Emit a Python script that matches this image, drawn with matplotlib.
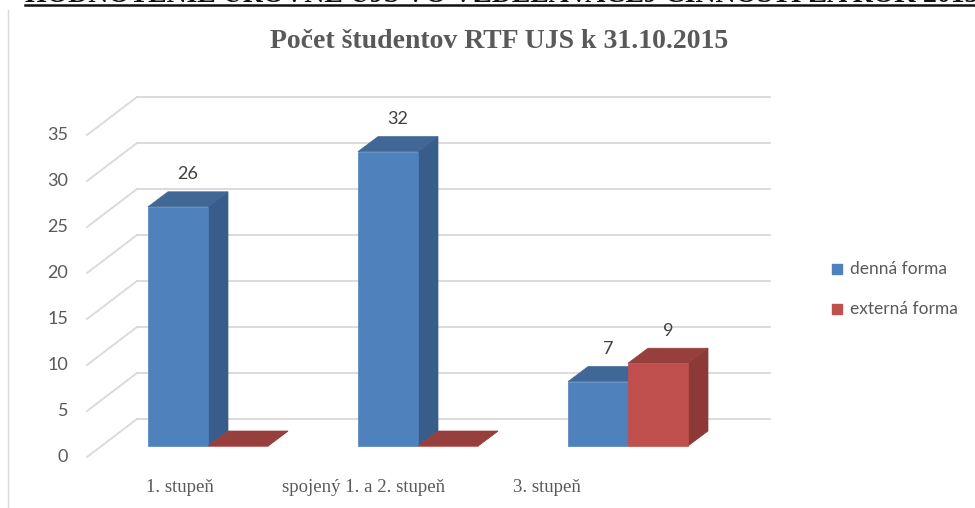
import matplotlib
matplotlib.use('Agg')
import matplotlib.pyplot as plt
from matplotlib.patches import Polygon
import numpy as np

# data
categories = ['1. stupeň', 'spojený 1. a 2. stupeň', '3. stupeň']
series_names = ['denná forma', 'externá forma']
denna = [26, 32, 7]
externa = [0, 0, 9]
yticks = [0, 5, 10, 15, 20, 25, 30, 35]

title = 'Počet študentov RTF UJS k 31.10.2015'
header = 'HODNOTENIE ÚROVNE UJS VO VZDELÁVACEJ ČINNOSTI ZA ROK 2015'

# colours: front, side, top
blue = ('#4f81bd', '#385d8a', '#416796')
red = ('#c0504d', '#8b3a38', '#973f3d')

W, H = 975, 508
fig = plt.figure(figsize=(W / 100, H / 100), dpi=100)
ax = fig.add_axes([0, 0, 1, 1])
ax.axis('off')

# x: category units (210 px each), y: value units (9.2 px each)
px_x, px_y = 210.0, 9.2
x0_px, y0_px = 208.0, 446.0
ax.set_xlim(-x0_px / px_x, (W - x0_px) / px_x)
ax.set_ylim((y0_px - H) / px_y, y0_px / px_y)

bw = 60 / px_x                       # bar width
bdx, bdy = 20 / px_x, 15 / px_y      # bar depth
wdx, wdy = 36 / px_x, 27 / px_y      # back wall offset from bar front
fdx, fdy = -14 / px_x, -11 / px_y    # floor front edge offset

# gridlines (back wall + left diagonal)
x_back_l, x_back_r = -71 / px_x, 562 / px_x
for t in yticks:
    ax.plot([x_back_l, x_back_r], [t + wdy, t + wdy], color='#d9d9d9', lw=1.3, zorder=1)
    ax.plot([x_back_l + fdx - wdx, x_back_l], [t + fdy, t + wdy], color='#d9d9d9', lw=1.3, zorder=1)
    ax.text(x_back_l + fdx - wdx - 0.09, t + fdy, str(t), ha='right', va='center',
            fontsize=13, color='#595959', family='Lato')


def bar3d(x, v, cols):
    front = [(x, 0), (x + bw, 0), (x + bw, v), (x, v)]
    side = [(x + bw, 0), (x + bw + bdx, bdy), (x + bw + bdx, v + bdy), (x + bw, v)]
    top = [(x, v), (x + bw, v), (x + bw + bdx, v + bdy), (x + bdx, v + bdy)]
    for poly, c in ((side, cols[1]), (top, cols[2]), (front, cols[0])):
        ax.add_patch(Polygon(poly, closed=True, facecolor=c, edgecolor=c, lw=0.5, zorder=3))


idx = np.arange(len(categories))
for i in idx:
    bar3d(i - bw, denna[i], blue)
    bar3d(i, externa[i], red)

# value labels
for i in idx:
    for x, v in ((i - bw, denna[i]), (i, externa[i])):
        if v > 0:
            ax.text(x + bw / 2 + bdx / 2, v + bdy / 2 + 2.7, str(v), ha='center', va='center',
                    fontsize=13, color='#404040', family='Lato')

# category labels (perspective shrink toward front)
for i, c in enumerate(categories):
    ax.text(i * 0.874 - 0.133, (y0_px - 487) / px_y, c, ha='center', va='center',
            fontsize=13.5, color='#595959', family='Liberation Serif')

# legend
for k, (name, col) in enumerate(zip(series_names, (blue[0], red[0]))):
    ly = (y0_px - (269 + 40 * k)) / px_y
    ax.scatter([(833 + 4 - x0_px) / px_x], [ly], marker='s', s=45, color=col, zorder=4)
    ax.text((850 - x0_px) / px_x, ly, name, ha='left', va='center',
            fontsize=12.5, color='#595959', family='Lato')

# title and page header (header is cut by the top edge, as in the source page)
fig.text(499 / W, 1 - 41 / H, title, ha='center', va='center', fontsize=20,
         fontweight='bold', color='#595959', family='Liberation Serif')
fig.text(25 / W, 1 - 2 / H, header, ha='left', va='baseline', fontsize=20,
         fontweight='bold', color='#111111', family='Liberation Serif')
fig.add_artist(plt.Line2D([25 / W, 1], [1 - 4.5 / H] * 2, color='#111111', lw=1.8))
fig.add_artist(plt.Line2D([8 / W, 8 / W], [0, 1 - 10 / H], color='#d9d9d9', lw=1))

fig.savefig('out.png', dpi=100)
